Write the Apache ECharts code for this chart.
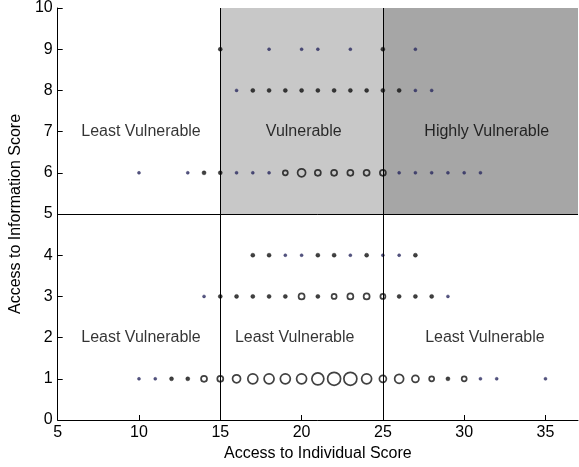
<!DOCTYPE html>
<html>
<head>
<meta charset="utf-8">
<script src="https://cdn.jsdelivr.net/npm/echarts@6/dist/echarts.min.js"></script>
<style>
  html, body { margin: 0; padding: 0; background: #fff; }
  #chart { width: 579px; height: 467px; }
</style>
</head>
<body>
<div id="chart"></div>
<script>
// score combinations, one row per info score, marker size ~ count
var row1X    = [10, 11, 12, 13, 14, 15, 16, 17, 18, 19, 20, 21, 22, 23, 24, 25, 26, 27, 28, 29, 30, 31, 32, 35];
var row1Size = [3, 3, 4, 4, 6, 6, 8, 10, 10, 10, 10, 12, 13, 13, 10, 7, 9, 7, 5, 4, 5, 3, 3, 3];
var row3X    = [14, 15, 16, 17, 18, 19, 20, 21, 22, 23, 24, 25, 26, 27, 28, 29];
var row3Size = [3, 4, 4, 4, 4, 4, 6, 4, 5, 6, 6, 5, 4, 4, 4, 3];
var row4X    = [17, 18, 19, 20, 21, 22, 23, 24, 25, 26, 27];
var row4Size = [4, 4, 3, 3, 4, 4, 3, 4, 3, 3, 4];
var row6X    = [10, 13, 14, 15, 16, 17, 18, 19, 20, 21, 22, 23, 24, 25, 26, 27, 28, 29, 30, 31];
var row6Size = [3, 3, 4, 4, 3, 3, 3, 5, 8, 6, 6, 6, 6, 6, 3, 3, 3, 3, 3, 3];
var row8X    = [16, 17, 18, 19, 20, 21, 22, 23, 24, 25, 26, 27, 28];
var row8Size = [3, 4, 4, 4, 4, 4, 4, 4, 4, 4, 4, 3, 3];
var row9X    = [15, 18, 20, 21, 23, 25, 27];
var row9Size = [4, 3, 3, 3, 3, 4, 3];

var regionText = ['Least Vulnerable', 'Vulnerable', 'Highly Vulnerable', 'Least Vulnerable', 'Least Vulnerable', 'Least Vulnerable'];
var regionX    = [6.45, 17.8, 27.55, 6.45, 15.9, 27.6];
var regionY    = [7, 7, 7, 2, 2, 2];

var xTicks = [5, 37];
var yTicks = [0, 10];

var FONT = '"Liberation Sans", Arial, sans-serif';

function make_points(){
	var rows = [[1, row1X, row1Size], [3, row3X, row3Size], [4, row4X, row4Size],
	            [6, row6X, row6Size], [8, row8X, row8Size], [9, row9X, row9Size]];
	var pts = [];
	for (var i = 0; i < rows.length; i++) {
		var y = rows[i][0], xs = rows[i][1], ss = rows[i][2];
		for (var j = 0; j < xs.length; j++) {
			var small = ss[j] <= 4;
			pts.push({
				value: [xs[j], y],
				symbolSize: ss[j],
				itemStyle: {
					color: small ? (ss[j] <= 3 ? '#2a2a60' : '#111') : 'rgba(0,0,0,0)',
					borderColor: ss[j] <= 3 ? '#2a2a60' : '#111',
					borderWidth: small ? 0.5 : 1.7
				}
			});
		}
	}
	return pts;
}

function make_labels(){
	var out = [];
	for (var i = 0; i < regionText.length; i++) {
		out.push({ value: [regionX[i], regionY[i]], name: regionText[i] });
	}
	return out;
}

var myChart = echarts.init(document.getElementById('chart'), null, { renderer: 'canvas' });

myChart.setOption({
	backgroundColor: '#fff',
	animation: false,
	textStyle: { fontFamily: FONT },
	grid: { left: 54, right: 1, top: 6, bottom: 47, containLabel: false },
	xAxis: {
		type: 'value',
		min: xTicks[0], max: xTicks[1], interval: 5,
		name: 'Access to Individual Score',
		nameLocation: 'middle', nameGap: 24,
		nameTextStyle: { fontSize: 16, color: '#000', fontFamily: FONT },
		axisLine: { show: true, onZero: false, lineStyle: { color: '#000', width: 1 } },
		axisTick: { show: true, inside: true, length: 5, lineStyle: { color: '#000' } },
		axisLabel: { fontSize: 16, color: '#000', margin: 5, showMaxLabel: false, fontFamily: FONT },
		splitLine: { show: false }
	},
	yAxis: {
		type: 'value',
		min: yTicks[0], max: yTicks[1], interval: 1,
		name: 'Access to Information Score',
		nameLocation: 'middle', nameGap: 31, nameRotate: 90,
		nameTextStyle: { fontSize: 16, color: '#000', fontFamily: FONT },
		axisLine: { show: true, onZero: false, lineStyle: { color: '#000', width: 1 } },
		axisTick: { show: true, inside: true, length: 5, lineStyle: { color: '#000' } },
		axisLabel: { fontSize: 16, color: '#000', margin: 5, fontFamily: FONT },
		splitLine: { show: false }
	},
	series: [
		{
			name: 'zones',
			type: 'scatter',
			data: [],
			silent: true,
			z: 1,
			markArea: {
				silent: true,
				data: [
					[{ coord: [15, 5], itemStyle: { color: '#c8c8c8' } }, { coord: [25, 10] }],
					[{ coord: [25, 5], itemStyle: { color: '#a6a6a6' } }, { coord: [37, 10] }]
				]
			},
			markLine: {
				silent: true,
				symbol: ['none', 'none'],
				label: { show: false },
				lineStyle: { color: '#000', width: 1, type: 'solid' },
				data: [
					[{ coord: [15, 0] }, { coord: [15, 10] }],
					[{ coord: [25, 0] }, { coord: [25, 10] }],
					[{ coord: [5, 5] }, { coord: [37, 5] }]
				]
			}
		},
		{
			name: 'labels',
			type: 'scatter',
			symbolSize: 0,
			silent: true,
			z: 3,
			data: make_labels(),
			label: {
				show: true,
				position: 'right',
				distance: 0,
				formatter: '{b}',
				fontSize: 16,
				color: '#000',
				fontFamily: FONT
			}
		},
		{
			name: 'scores',
			type: 'scatter',
			symbol: 'circle',
			z: 4,
			data: make_points()
		}
	]
});
</script>
</body>
</html>
